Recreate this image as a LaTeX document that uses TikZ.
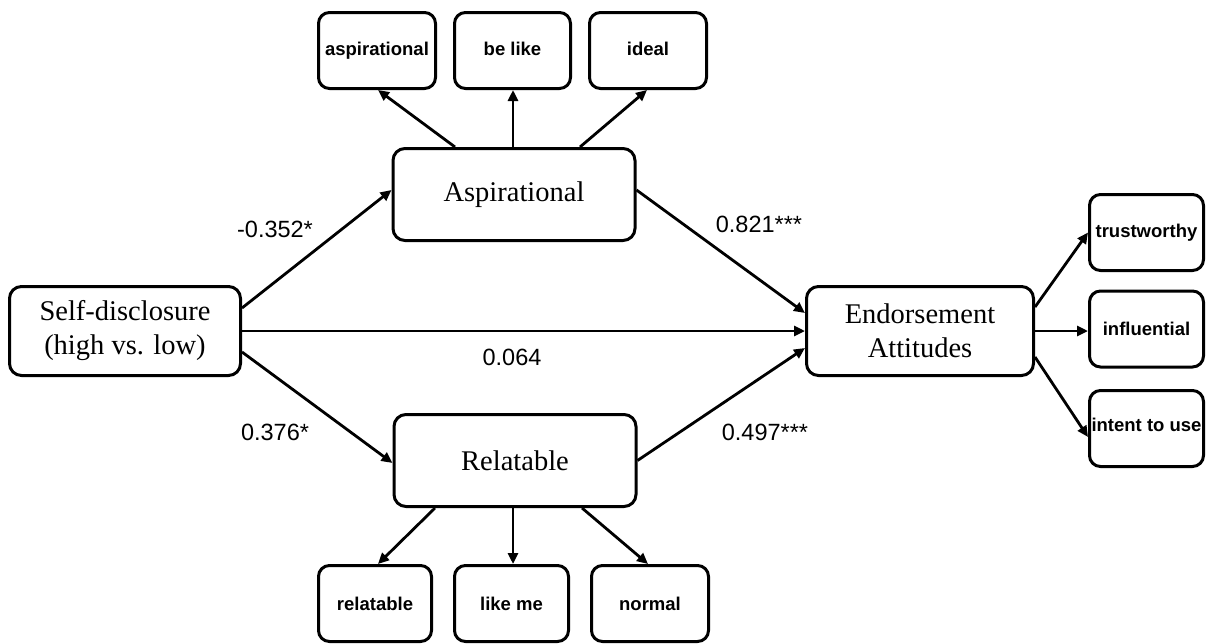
\documentclass[tikz,border=0pt]{standalone}
\usepackage{fontspec}
\setmainfont{Liberation Serif}
\newfontfamily\labfont{Liberation Sans}
\usetikzlibrary{arrows.meta}
\begin{document}
\begin{tikzpicture}[x=1pt,y=-1pt,
  bigbox/.style={draw,line width=3pt,rounded corners=12pt,align=center,
    font=\fontsize{28.5}{34}\selectfont,inner sep=0pt},
  smallbox/.style={draw,line width=3pt,rounded corners=11pt,
    font=\labfont\bfseries\fontsize{18.5}{22}\selectfont,inner sep=0pt,
    minimum width=114pt,minimum height=76pt},
  coef/.style={font=\labfont\fontsize{23.5}{28}\selectfont,inner sep=0pt},
  arr/.style={line width=2.8pt,-{Triangle[length=11pt,width=10pt]}}]
\useasboundingbox (0,0) rectangle (1207,643);
% main boxes
\node[bigbox,minimum width=242pt,minimum height=92pt] (Asp) at (514,194.5) {Aspirational};
\node[bigbox,minimum width=242pt,minimum height=92pt] (Rel) at (515,460.5) {Relatable};
\node[bigbox,minimum width=231pt,minimum height=89pt] (Self) at (125,331) {Self-disclosure\\(high vs. low)};
\node[bigbox,minimum width=227pt,minimum height=89pt] (End) at (920,331) {Endorsement\\Attitudes};
% indicator boxes
\node[smallbox,minimum width=117pt] (asp1) at (377,50.5) {\raisebox{3pt}{aspirational}};
\node[smallbox,minimum width=116pt] (belike) at (512.5,50.5) {\raisebox{3pt}{be like}};
\node[smallbox,minimum width=117pt] (ideal) at (648,50.5) {\raisebox{3pt}{ideal}};
\node[smallbox,minimum width=114pt] (trust) at (1146.5,232.5) {\raisebox{3pt}{trustworthy}};
\node[smallbox,minimum width=114pt] (infl) at (1146.5,329) {influential};
\node[smallbox,minimum width=114pt] (intent) at (1146.5,428.5) {\raisebox{8pt}{intent to use}};
\node[smallbox,minimum width=113pt] (rel1) at (375,603.5) {relatable};
\node[smallbox,minimum width=114pt] (likeme) at (511.5,603.5) {like me};
\node[smallbox,minimum width=117pt] (normal) at (650,603.5) {normal};
% arrows to top indicators
\draw[arr] ([xshift=-59pt]Asp.north) -- ([xshift=1pt]asp1.south);
\draw[arr] ([xshift=-1pt]Asp.north) -- ([xshift=0.5pt]belike.south);
\draw[arr] ([xshift=66pt]Asp.north) -- ([xshift=-1pt]ideal.south);
% arrows to bottom indicators
\draw[arr] ([xshift=-80pt]Rel.south) -- ([xshift=3pt]rel1.north);
\draw[arr] ([xshift=-2pt]Rel.south) -- ([xshift=1.5pt]likeme.north);
\draw[arr] ([xshift=67pt]Rel.south) -- ([xshift=-2pt]normal.north);
% structural paths
\draw[arr] ([yshift=23pt]Self.east) -- ([yshift=4.5pt]Asp.west);
\draw[arr] (Self.east) -- (End.west);
\draw[arr] ([yshift=-21pt]Self.east) -- ([yshift=-2.5pt]Rel.west);
\draw[arr] ([yshift=4.5pt]Asp.east) -- ([yshift=18pt]End.west);
\draw[arr] (Rel.east) -- ([yshift=-17pt]End.west);
% arrows to right indicators
\draw[arr] ([yshift=24pt]End.east) -- (trust.west);
\draw[arr] (End.east) -- (End.east -| infl.west);
\draw[arr] ([yshift=-26pt]End.east) -- ([yshift=-8.5pt]intent.west);
% coefficients
\node[coef] (c1) at (275,229) {-0.352*};
\node[coef] (c2) at (759,224) {0.821***};
\node[coef] (c3) at (512,357) {0.064};
\node[coef] (c4) at (275,432) {0.376*};
\node[coef] (c5) at (765,432) {0.497***};
\end{tikzpicture}
\end{document}
